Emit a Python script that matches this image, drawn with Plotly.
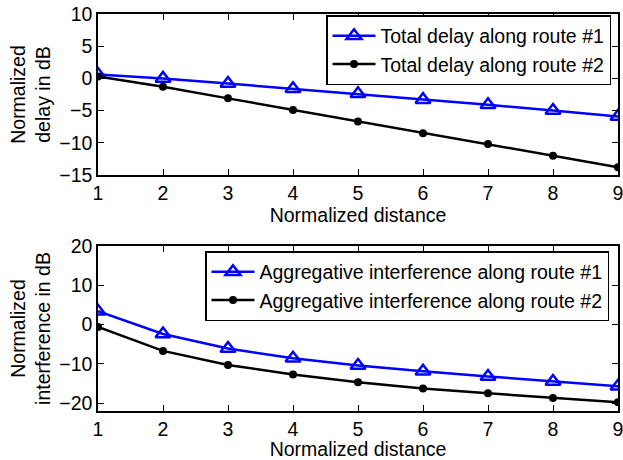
import plotly.graph_objects as go

distance = [1, 2, 3, 4, 5, 6, 7, 8, 9]
delay_route1 = [0.6, 0.0, -0.8, -1.6, -2.4, -3.3, -4.1, -5.0, -5.9]
delay_route2 = [0.3, -1.3, -3.1, -4.9, -6.7, -8.5, -10.2, -12.0, -13.8]
interf_route1 = [3.4, -2.4, -6.1, -8.6, -10.4, -11.9, -13.2, -14.5, -15.7]
interf_route2 = [-0.6, -6.7, -10.3, -12.7, -14.7, -16.3, -17.5, -18.7, -19.8]

top_yticks = [-15, -10, -5, 0, 5, 10]
bot_yticks = [-20, -10, 0, 10, 20]
xticks = [1, 2, 3, 4, 5, 6, 7, 8, 9]

FONT = "Liberation Sans, Arial, Helvetica, sans-serif"
FS = 19.5
BLUE = "#0000ff"
BLACK = "#000000"

fig = go.Figure()

fig.add_trace(go.Scatter(x=distance, y=delay_route1, mode="lines+markers",
                         name="Total delay along route #1",
                         line=dict(color=BLUE, width=2.5),
                         marker=dict(symbol="triangle-up-open", size=13, color=BLUE,
                                     line=dict(width=2.5, color=BLUE)),
                         xaxis="x", yaxis="y", legend="legend"))
fig.add_trace(go.Scatter(x=distance, y=delay_route2, mode="lines+markers",
                         name="Total delay along route #2",
                         line=dict(color=BLACK, width=2.5),
                         marker=dict(symbol="circle", size=8, color=BLACK),
                         xaxis="x", yaxis="y", legend="legend"))
fig.add_trace(go.Scatter(x=distance, y=interf_route1, mode="lines+markers",
                         name="Aggregative interference along route #1",
                         line=dict(color=BLUE, width=2.5),
                         marker=dict(symbol="triangle-up-open", size=13, color=BLUE,
                                     line=dict(width=2.5, color=BLUE)),
                         xaxis="x2", yaxis="y2", legend="legend2"))
fig.add_trace(go.Scatter(x=distance, y=interf_route2, mode="lines+markers",
                         name="Aggregative interference along route #2",
                         line=dict(color=BLACK, width=2.5),
                         marker=dict(symbol="circle", size=8, color=BLACK),
                         xaxis="x2", yaxis="y2", legend="legend2"))

axis_common = dict(showline=True, linecolor="black", linewidth=1.5, mirror="ticks",
                   ticks="inside", ticklen=6, tickwidth=1, tickcolor="black",
                   showgrid=False, zeroline=False, automargin=False,
                   ticklabeloverflow="allow",
                   tickfont=dict(family=FONT, size=FS, color="black"))

W, H = 623, 460
L, R, T = 98, 5, 14
B = H - 411
ph = H - T - B

def ydom(top_px, bot_px):
    return [(H - B - bot_px) / ph, (H - B - top_px) / ph]

def lx(px):
    return (px - L) / (W - L - R)

def ly(py):
    return (H - B - py) / ph

fig.update_layout(
    width=W, height=H,
    margin=dict(l=L, r=R, t=T, b=B),
    paper_bgcolor="white", plot_bgcolor="white",
    font=dict(family=FONT, size=FS, color="black"),
    xaxis=dict(axis_common, domain=[0, 1], range=[1, 9], tickvals=xticks, anchor="y",
               title=dict(text="Normalized distance", standoff=2,
                          font=dict(family=FONT, size=FS))),
    yaxis=dict(axis_common, domain=ydom(14, 175), range=[-15, 10], tickvals=top_yticks,
               anchor="x",
               title=dict(text="Normalized<br>delay in dB", standoff=3,
                          font=dict(family=FONT, size=FS))),
    xaxis2=dict(axis_common, domain=[0, 1], range=[1, 9], tickvals=xticks, anchor="y2",
                title=dict(text="Normalized distance", standoff=2,
                           font=dict(family=FONT, size=FS))),
    yaxis2=dict(axis_common, domain=ydom(246, 411), range=[-22, 20], tickvals=bot_yticks,
                anchor="x2",
                title=dict(text="Normalized<br>interference in dB", standoff=3,
                           font=dict(family=FONT, size=FS))),
    legend=dict(x=lx(326), y=ly(15), xanchor="left", yanchor="top", itemwidth=43,
                bgcolor="white", bordercolor="black", borderwidth=1.5,
                font=dict(family=FONT, size=FS), tracegroupgap=0),
    legend2=dict(x=lx(205), y=ly(251), xanchor="left", yanchor="top", itemwidth=43,
                 bgcolor="white", bordercolor="black", borderwidth=1.5,
                 font=dict(family=FONT, size=FS), tracegroupgap=0),
    showlegend=True,
)

fig.write_html("out.html", config={"displayModeBar": False},
               post_script="document.body.style.margin='0';")
